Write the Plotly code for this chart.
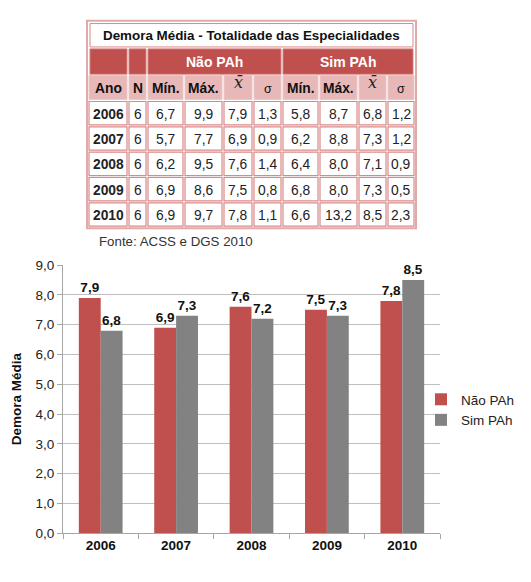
import plotly.graph_objects as go

years = ["2006", "2007", "2008", "2009", "2010"]
n_vals = [6, 6, 6, 6, 6]
nao_min = [6.7, 5.7, 6.2, 6.9, 6.9]
nao_max = [9.9, 7.7, 9.5, 8.6, 9.7]
nao_mean = [7.9, 6.9, 7.6, 7.5, 7.8]
nao_sd = [1.3, 0.9, 1.4, 0.8, 1.1]
sim_min = [5.8, 6.2, 6.4, 6.8, 6.6]
sim_max = [8.7, 8.8, 8.0, 8.0, 13.2]
sim_mean = [6.8, 7.3, 7.1, 7.3, 8.5]
sim_sd = [1.2, 1.2, 0.9, 0.5, 2.3]

# values as drawn in the bar chart (the chart shows 7,2 for Sim PAh 2008)
chart_nao = [7.9, 6.9, 7.6, 7.5, 7.8]
chart_sim = [6.8, 7.3, 7.2, 7.3, 8.5]

table_title = "Demora Média - Totalidade das Especialidades"
group_labels = ["Não PAh", "Sim PAh"]
col_headers = ["Ano", "N", "Mín.", "Máx.", "<i>x̄</i>", "σ", "Mín.", "Máx.", "<i>x̄</i>", "σ"]
source_text = "Fonte: ACSS e DGS 2010"
series_names = ["Não PAh", "Sim PAh"]

W, H = 531, 582
FONT = "Liberation Sans, Arial, sans-serif"
RED = "#c0504d"
GRAY = "#828282"
BORDER = "#d9898a"
SUBHDR = "#e8b8b8"


def fx(x):
    return x / W


def fy(y):
    return 1 - y / H


fmt = lambda v: (f"{v:.1f}").replace(".", ",")

fig = go.Figure()
fig.add_trace(go.Bar(x=years, y=chart_nao, name=series_names[0], marker=dict(color=RED, line=dict(width=0)),
                     text=[fmt(v) for v in chart_nao], textposition="outside",
                     textfont=dict(family=FONT, size=13.5, color="#111", weight="bold"), cliponaxis=False))
fig.add_trace(go.Bar(x=years, y=chart_sim, name=series_names[1], marker=dict(color=GRAY, line=dict(width=0)),
                     text=[fmt(v) for v in chart_sim], textposition="outside",
                     textfont=dict(family=FONT, size=13.5, color="#111", weight="bold"), cliponaxis=False))

shapes = []
ann = []

col_x = [88, 128, 147, 184, 223, 253, 282, 319, 358, 387, 415]
row_y = [15, 42, 69, 96, 122, 148, 174, 200, 226]


def rect(x0, y0, x1, y1, fill, line=BORDER, lw=1.5):
    shapes.append(dict(type="rect", xref="paper", yref="paper", x0=fx(x0), x1=fx(x1), y0=fy(y1), y1=fy(y0),
                       fillcolor=fill, line=dict(color=line, width=lw), layer="above"))


def text(x, y, s, size=13, bold=False, color="#111", fam=FONT, xanchor="center"):
    if bold:
        s = "<b>" + s + "</b>"
    ann.append(dict(xref="paper", yref="paper", x=fx(x), y=fy(y), text=s, showarrow=False,
                    font=dict(family=fam, size=size, color=color), xanchor=xanchor, yanchor="middle"))


# outer border
rect(col_x[0] - 1, row_y[0] - 1, col_x[-1] + 1, row_y[-1] + 1, "white", line="#e3a9a9", lw=2)
# title row
rect(col_x[0] + 2, row_y[0] + 2, col_x[-1] - 2, row_y[1] - 1, "white", line=BORDER, lw=1)
text((col_x[0] + col_x[-1]) / 2, (row_y[0] + row_y[1]) / 2 + 1, table_title, size=13.4, bold=True)
# group header row
rect(col_x[0] + 2, row_y[1] + 1, col_x[1] - 1, row_y[2], RED, line="#d77d7c", lw=1)
rect(col_x[1] + 1, row_y[1] + 1, col_x[2] - 1, row_y[2], RED, line="#d77d7c", lw=1)
rect(col_x[2] + 1, row_y[1] + 1, col_x[6] - 1, row_y[2], RED, line="#d77d7c", lw=1)
rect(col_x[6] + 1, row_y[1] + 1, col_x[10] - 2, row_y[2], RED, line="#d77d7c", lw=1)
text((col_x[2] + col_x[6]) / 2, (row_y[1] + row_y[2]) / 2 + 1, group_labels[0], size=14, bold=True, color="white")
text((col_x[6] + col_x[10]) / 2, (row_y[1] + row_y[2]) / 2 + 1, group_labels[1], size=14, bold=True, color="white")
# column header row
for i, h in enumerate(col_headers):
    rect(col_x[i] + 1, row_y[2] + 1, col_x[i + 1] - 1, row_y[3] - 1, SUBHDR, line="#ecc7c7", lw=1)
    if "x̄" in h:
        text((col_x[i] + col_x[i + 1]) / 2, row_y[2] + 9, h, size=16, fam="DejaVu Serif", color="#222")
    elif h == "σ":
        text((col_x[i] + col_x[i + 1]) / 2, (row_y[2] + row_y[3]) / 2 + 2, h, size=12.5)
    else:
        text((col_x[i] + col_x[i + 1]) / 2, (row_y[2] + row_y[3]) / 2 + 1, h, size=13.8, bold=True)
# data rows
for r in range(len(years)):
    vals = [years[r], str(n_vals[r]), fmt(nao_min[r]), fmt(nao_max[r]), fmt(nao_mean[r]), fmt(nao_sd[r]),
            fmt(sim_min[r]), fmt(sim_max[r]), fmt(sim_mean[r]), fmt(sim_sd[r])]
    y0, y1 = row_y[3 + r], row_y[4 + r]
    for i, v in enumerate(vals):
        rect(col_x[i] + 1, y0 + 1, col_x[i + 1] - 1, y1 - 1, "white", line=BORDER, lw=1.2)
        text((col_x[i] + col_x[i + 1]) / 2, (y0 + y1) / 2 + 1, v, size=13.8, bold=(i == 0), color="#222")

text(97, 241, source_text, size=13.3, color="#333", xanchor="left")

fig.update_layout(
    width=W, height=H,
    margin=dict(l=0, r=0, t=0, b=0),
    paper_bgcolor="white", plot_bgcolor="white",
    separators=",.",
    barmode="group", bargap=0.42, bargroupgap=0,
    font=dict(family=FONT, size=12, color="#222"),
    xaxis=dict(domain=[fx(63), fx(440)], anchor="y", showline=True, linecolor="#a6a6a6", linewidth=1,
               ticks="outside", tickson="boundaries", ticklen=5, tickcolor="#a6a6a6",
               tickfont=dict(family=FONT, size=13.5, color="#111", weight="bold"),
               showgrid=False),
    yaxis=dict(domain=[fy(540), fy(265)], anchor="x", range=[0, 9], dtick=1, tickformat=".1f",
               showline=True, linecolor="#a6a6a6", linewidth=1, ticks="outside", ticklen=5,
               tickcolor="#a6a6a6", gridcolor="#bfbfbf", gridwidth=1,
               tickfont=dict(family=FONT, size=13.5, color="#222"),
               title=dict(text="<b>Demora Média</b>", font=dict(family=FONT, size=13.5, color="#111"),
                          standoff=10)),
    legend=dict(x=fx(421), y=fy(387), xanchor="left", yanchor="top", bgcolor="rgba(0,0,0,0)",
                font=dict(family=FONT, size=13.5, color="#222"), itemwidth=30, tracegroupgap=4),
    shapes=shapes, annotations=ann,
    showlegend=True,
)

fig.write_html("out.html")
